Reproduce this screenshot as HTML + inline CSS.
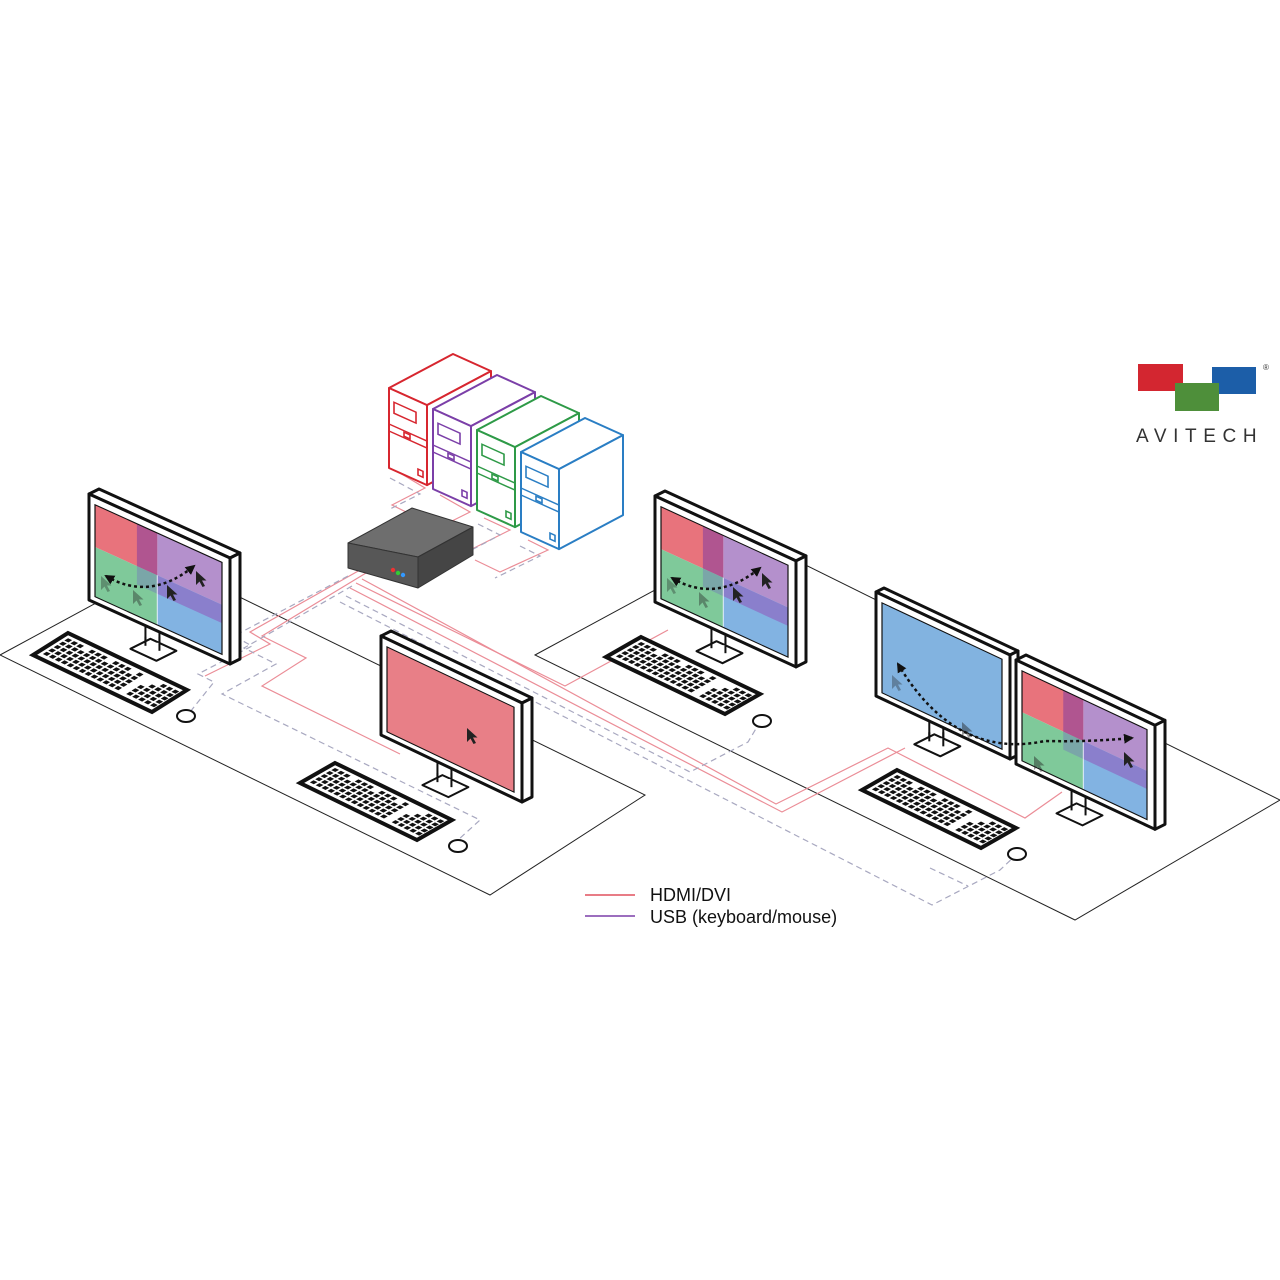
<!DOCTYPE html>
<html><head><meta charset="utf-8"><style>
html,body{margin:0;padding:0;background:#fff;width:1280px;height:1280px;overflow:hidden}
svg{display:block}
</style></head><body>
<svg id="s" width="1280" height="1280" viewBox="0 0 1280 1280" xmlns="http://www.w3.org/2000/svg">
<defs>
<marker id="ah" viewBox="0 0 10 10" refX="8" refY="5" markerWidth="4" markerHeight="4" orient="auto-start-reverse"><path d="M0,0 L10,5 L0,10 z" fill="#111"/></marker>
</defs>
<g id="desks" fill="none" stroke="#222" stroke-width="1">
<polygon points="0,655 170,563 645,795 490,895" fill="#fff"/>
<polygon points="535,655 751,538 1280,800 1075,920" fill="#fff"/>
</g>
<g id="cables" fill="none" stroke-width="1.2"></g>
<g id="main"></g>
<g font-family="Liberation Sans, sans-serif">
<line x1="585" y1="895" x2="635" y2="895" stroke="#e0505f" stroke-width="1.5"/>
<text x="650" y="901" font-size="18" fill="#111">HDMI/DVI</text>
<line x1="585" y1="916" x2="635" y2="916" stroke="#7b3fa8" stroke-width="1.5"/>
<text x="650" y="923" font-size="18" fill="#111">USB (keyboard/mouse)</text>
<rect x="1138" y="364" width="45" height="27" fill="#d32630"/>
<rect x="1212" y="367" width="44" height="27" fill="#1c5ea8"/>
<rect x="1175" y="383" width="44" height="28" fill="#4e8f3a"/>
<text x="1136" y="442" font-size="19" fill="#333" letter-spacing="6.6">AVITECH</text>
<text x="1263" y="370" font-size="8" fill="#333">®</text>
</g>
</svg>
<script>
var out='';
function P(pts,fill,stroke,sw,extra){return '<polygon points="'+pts.map(function(p){return p[0].toFixed(1)+','+p[1].toFixed(1)}).join(' ')+'" fill="'+fill+'" stroke="'+(stroke||'none')+'" stroke-width="'+(sw||0)+'" stroke-linejoin="round" '+(extra||'')+'/>';}
function cursor(x,y,op){return '<polygon points="'+[[0,0],[0,14],[3.5,10.5],[6.5,16],[9,15],[6,9.5],[10.5,9.5]].map(function(p){return (x+p[0])+','+(y+p[1])}).join(' ')+'" fill="#222" opacity="'+(op||1)+'"/>';}
function quad(w,h){
 var x1=6,x2=w-8,y1=8,y2=h-6,mx=x1+(x2-x1)*0.49,my=y1+(y2-y1)*0.46,px=x1+(x2-x1)*0.33,py=my+(y2-y1)*0.2;
 var s='';
 s+='<rect x="'+x1+'" y="'+y1+'" width="'+(mx-x1)+'" height="'+(my-y1)+'" fill="#e8737c"/>';
 s+='<rect x="'+mx+'" y="'+y1+'" width="'+(x2-mx)+'" height="'+(my-y1)+'" fill="#b490cc"/>';
 s+='<rect x="'+x1+'" y="'+my+'" width="'+(mx-x1)+'" height="'+(y2-my)+'" fill="#7fc99a"/>';
 s+='<rect x="'+mx+'" y="'+my+'" width="'+(x2-mx)+'" height="'+(y2-my)+'" fill="#82b3e2"/>';
 s+='<rect x="'+px+'" y="'+y1+'" width="'+(mx-px)+'" height="'+(my-y1)+'" fill="#b05590"/>';
 s+='<rect x="'+px+'" y="'+my+'" width="'+(mx-px)+'" height="'+(py-my)+'" fill="#7aa6a8"/>';
 s+='<rect x="'+mx+'" y="'+my+'" width="'+(x2-mx)+'" height="'+(py-my)+'" fill="#8a7fcc"/>';
 s+='<line x1="'+mx+'" y1="'+my+'" x2="'+mx+'" y2="'+y2+'" stroke="#fff" stroke-width="0.8"/>';
 return s;
}
function full(w,h,c){return '<rect x="6" y="8" width="'+(w-14)+'" height="'+(h-14)+'" fill="'+c+'"/>';}
function monitor(x0,y0,w,h,s,d,screen){
 var r='';
 var cx=x0+w*0.45, yb=y0+s*w*0.45+h;
 r+='<rect x="'+(cx-7)+'" y="'+(yb-8)+'" width="14" height="26" fill="#fff" stroke="#111" stroke-width="2"/>';
 r+=P([[cx-22,yb+20],[cx-2,yb+10],[cx+24,yb+22],[cx+4,yb+32]],'#fff','#111',2);
 r+=P([[cx-7,yb+14],[cx+7,yb+14],[cx+7,yb+20],[cx-7,yb+20]],'#fff','none');
 r+='<line x1="'+(cx-7)+'" y1="'+(yb+8)+'" x2="'+(cx-7)+'" y2="'+(yb+17)+'" stroke="#111" stroke-width="2"/>';
 r+='<line x1="'+(cx+7)+'" y1="'+(yb+8)+'" x2="'+(cx+7)+'" y2="'+(yb+22)+'" stroke="#111" stroke-width="2"/>';
 var TL=[x0,y0],TR=[x0+w,y0+s*w],BR=[x0+w,y0+s*w+h],BL=[x0,y0+h];
 r+=P([TL,[x0+d,y0-d/2],[TR[0]+d,TR[1]-d/2],TR],'#fff','#111',3);
 r+=P([TR,[TR[0]+d,TR[1]-d/2],[BR[0]+d,BR[1]-d/2],BR],'#fff','#111',3);
 r+=P([TL,TR,BR,BL],'#fff','#111',3);
 r+='<g transform="matrix(1,'+s+',0,1,'+x0+','+y0+')">'+screen+'<rect x="6" y="8" width="'+(w-14)+'" height="'+(h-14)+'" fill="none" stroke="#111" stroke-width="1.2"/></g>';
 return r;
}
function keyboard(top,right,left){
 var ux=(right[0]-top[0])/100,uy=(right[1]-top[1])/100,vx=(left[0]-top[0])/30,vy=(left[1]-top[1])/30;
 var r='<g transform="matrix('+ux+','+uy+','+vx+','+vy+','+top[0]+','+top[1]+')">';
 r+='<rect x="0" y="0" width="100" height="30" fill="#fff" stroke="#111" stroke-width="4" vector-effect="non-scaling-stroke"/>';
 for(var j=0;j<5;j++){for(var i=0;i<19;i++){ if(i==13||i==14&&j<2) continue; if(j==0&&(i%4==3))continue; r+='<rect x="'+(4+i*5)+'" y="'+(4+j*4.6)+'" width="3.4" height="3.2" fill="#111"/>';}}
 r+='</g>';return r;
}
function tower(x,y,c){
 var r='',w=38,h=80,s=0.45,dx=64,dy=-34;
 var TL=[x,y],TR=[x+w,y+w*s],BR=[x+w,y+w*s+h],BL=[x,y+h];
 r+=P([TL,[x+dx,y+dy],[TR[0]+dx,TR[1]+dy],TR],'#fff',c,2);
 r+=P([TR,[TR[0]+dx,TR[1]+dy],[BR[0]+dx,BR[1]+dy],BR],'#fff',c,2);
 r+=P([TL,TR,BR,BL],'#fff',c,2);
 r+='<g transform="matrix(1,'+s+',0,1,'+x+','+y+')" fill="none" stroke="'+c+'" stroke-width="1.6">';
 r+='<rect x="5" y="12" width="22" height="11"/><line x1="0" y1="36" x2="38" y2="36"/><line x1="0" y1="43" x2="38" y2="43"/><rect x="15" y="37.5" width="6" height="4"/><rect x="29" y="68" width="5" height="6"/></g>';
 return r;
}
var cab='';
function pl(pts,c,dash){return '<polyline points="'+pts.join(' ')+'" stroke="'+c+'" '+(dash?'stroke-dasharray="6 4"':'')+'/>';}
var RC='#eb8d97',DC='#a8a8c0';
cab+=pl(['360,570','250,632','270,644','205,676'],RC);
cab+=pl(['366,573','262,636','306,658','262,686','400,754'],RC);
cab+=pl(['350,588','782,812','905,748'],RC);
cab+=pl(['356,583','565,686','668,630'],RC);
cab+=pl(['362,579','776,804','888,748','1025,818','1062,792'],RC);
cab+=pl(['348,576','234,636','252,646','198,674','214,682','190,712'],DC,1);
cab+=pl(['352,586','244,648','276,664','222,694','480,820','458,840'],DC,1);
cab+=pl(['346,596','690,772','748,742','760,722'],DC,1);
cab+=pl(['340,602','932,905','1000,870','1016,855'],DC,1);
cab+=pl(['930,868','968,886'],DC,1);
cab+=pl(['395,470','425,488','392,505','410,514'],RC);
cab+=pl(['390,478','420,494','388,510'],DC,1);
cab+=pl(['440,495','470,512','430,532'],RC);
cab+=pl(['484,518','510,530','470,550'],RC);
cab+=pl(['478,524','500,535','462,555'],DC,1);
cab+=pl(['528,540','548,550','500,572','475,560'],RC);
cab+=pl(['520,546','540,556','495,578'],DC,1);
document.getElementById('cables').innerHTML=cab;
out+=tower(389,388,'#d7262f');
out+=tower(433,409,'#7b3fa8');
out+=tower(477,430,'#2e9a47');
out+=tower(521,452,'#2a7ec4');
out+=P([[348,543],[412,508],[473,527],[418,557]],'#6e6e6e','#333',1);
out+=P([[348,543],[418,557],[418,588],[348,568]],'#575757','#333',1);
out+=P([[418,557],[473,527],[473,555],[418,588]],'#454545','#333',1);
out+='<circle cx="393" cy="570" r="2.2" fill="#e33"/><circle cx="398" cy="573" r="2.2" fill="#3c3"/><circle cx="403" cy="575" r="2.2" fill="#39f"/>';
var q1=quad(141,106);
out+=monitor(89,494,141,106,0.454,10,q1);
out+=monitor(381,636,141,99,0.475,10,full(141,99,'#e87f87'));
out+=monitor(655,496,141,106,0.46,10,q1);
out+=monitor(876,592,134,104,0.47,8,full(134,104,'#82b3e0'));
out+=monitor(1016,660,139,104,0.47,10,quad(139,104));
out+=keyboard([68,633],[187,690],[33,655]);
out+=keyboard([335,763],[452,820],[300,783]);
out+=keyboard([641,637],[760,694],[606,657]);
out+=keyboard([897,770],[1016,828],[862,790]);
[[186,716],[458,846],[762,721],[1017,854]].forEach(function(m){out+='<ellipse cx="'+m[0]+'" cy="'+m[1]+'" rx="9" ry="6" fill="#fff" stroke="#111" stroke-width="2"/>';});
out+=cursor(101,576,0.35)+cursor(133,590,0.4)+cursor(167,585)+cursor(196,571);
out+=cursor(467,728);
out+=cursor(667,578,0.35)+cursor(699,592,0.4)+cursor(733,587)+cursor(762,573);
out+=cursor(892,675,0.35)+cursor(962,722,0.45)+cursor(1034,756,0.45)+cursor(1124,752);
var A='fill="none" stroke="#111" stroke-width="2.5" stroke-dasharray="3 3" marker-start="url(#ah)" marker-end="url(#ah)"';
out+='<path d="M106,576 Q150,602 194,566" '+A+'/>';
out+='<path d="M672,578 Q716,604 760,568" '+A+'/>';
out+='<path d="M898,664 Q955,760 1045,741 Q1090,742 1132,738" '+A+'/>';
document.getElementById('main').innerHTML=out;
</script>
</body></html>
